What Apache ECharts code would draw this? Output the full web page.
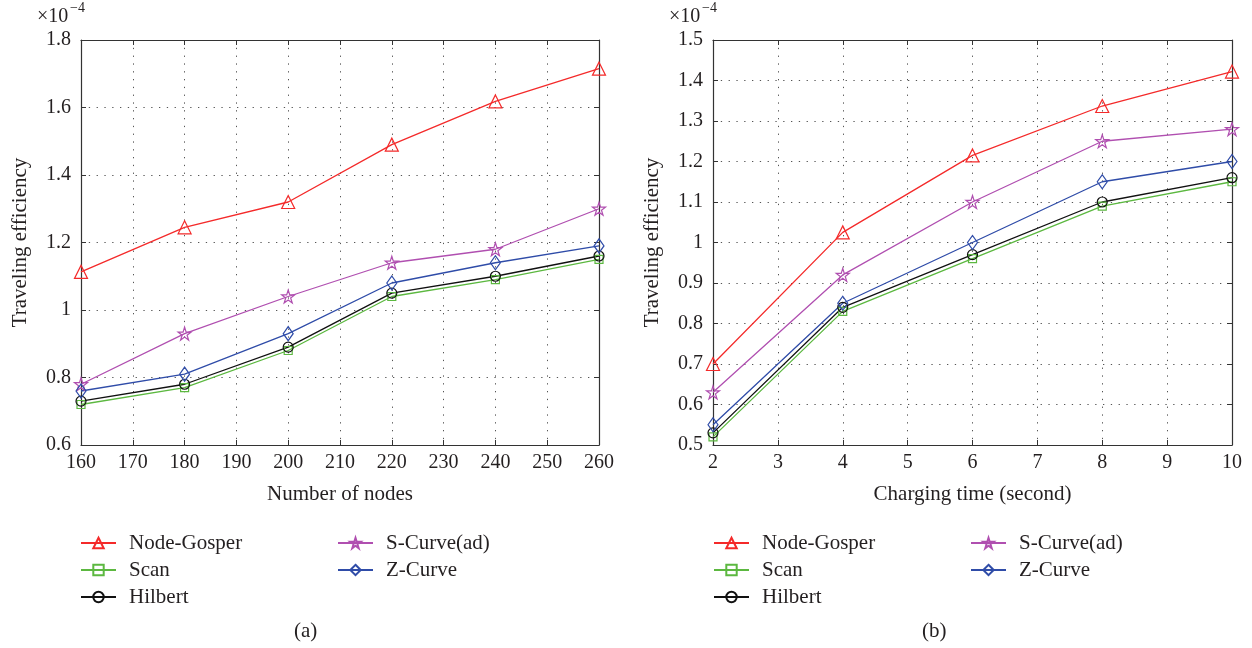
<!DOCTYPE html>
<html>
<head>
<meta charset="utf-8">
<script src="https://cdn.jsdelivr.net/npm/echarts@6/dist/echarts.min.js"></script>
<style>
html,body{margin:0;padding:0;background:#fff;}
#chart{width:1252px;height:648px;}
</style>
</head>
<body>
<div id="chart"></div>
<script>
// ---- data (values in units of 1e-4) ----
const seriesNames = ['Node-Gosper', 'Scan', 'Hilbert', 'S-Curve(ad)', 'Z-Curve'];
const nodesX = [160, 180, 200, 220, 240, 260];
const nodesGosper = [1.113, 1.245, 1.32, 1.49, 1.618, 1.715];
const nodesScan = [0.72, 0.77, 0.88, 1.04, 1.09, 1.15];
const nodesHilbert = [0.73, 0.78, 0.89, 1.05, 1.10, 1.16];
const nodesSCurve = [0.78, 0.93, 1.04, 1.14, 1.18, 1.30];
const nodesZCurve = [0.76, 0.81, 0.93, 1.08, 1.14, 1.19];

const timeX = [2, 4, 6, 8, 10];
const timeGosper = [0.70, 1.025, 1.215, 1.337, 1.422];
const timeScan = [0.52, 0.83, 0.96, 1.09, 1.15];
const timeHilbert = [0.53, 0.84, 0.97, 1.10, 1.16];
const timeSCurve = [0.63, 0.92, 1.10, 1.25, 1.28];
const timeZCurve = [0.55, 0.85, 1.00, 1.15, 1.20];

const xNameA = 'Number of nodes';
const xNameB = 'Charging time (second)';
const yName = 'Traveling efficiency';
const captions = ['(a)', '(b)'];

// ---- styles ----
const FONT = '"Liberation Serif", "DejaVu Serif", serif';
const TXT = '#231f20';
const colors = {
  'Node-Gosper': '#f42a2a',
  'Scan': '#5cb840',
  'Hilbert': '#111111',
  'S-Curve(ad)': '#b04fb0',
  'Z-Curve': '#2f4ca8'
};
const starPath = 'path://M0,-100 L22.45,-30.9 L95.1,-30.9 L36.3,11.8 L58.8,80.9 L0,38.2 L-58.8,80.9 L-36.3,11.8 L-95.1,-30.9 L-22.45,-30.9 Z';
const symbols = {
  'Node-Gosper': ['triangle', 13],
  'Scan': ['rect', 8],
  'Hilbert': ['circle', 10],
  'S-Curve(ad)': [starPath, 13],
  'Z-Curve': ['diamond', [10, 14]]
};

const grids = [
  {left: 81, top: 40, width: 518, height: 405},
  {left: 713, top: 40, width: 519, height: 405}
];

function pairs(xs, ys) { return xs.map((x, i) => [x, ys[i]]); }

function mkSeries(name, xs, ys, gi) {
  const c = colors[name];
  return {
    name: name, type: 'line',
    xAxisIndex: gi * 2, yAxisIndex: gi * 2,
    data: pairs(xs, ys),
    symbol: symbols[name][0], symbolSize: symbols[name][1],
    lineStyle: {color: c, width: 1.3},
    itemStyle: {color: 'rgba(255,255,255,0)', borderColor: c, borderWidth: 1.2},
    emphasis: {disabled: true},
    z: name === 'Node-Gosper' ? 5 : 3
  };
}

const gridLine = {show: true, lineStyle: {color: '#555', type: [1.3, 6.5], width: 1}};
const axisLineStyle = {show: true, lineStyle: {color: '#333', width: 1.2}};
const tickIn = {show: true, inside: true, length: 5, lineStyle: {color: '#333'}};
const labelStyle = {fontFamily: FONT, fontSize: 20, color: TXT};
const fmtY = v => String(Number(v.toFixed(1)));

function xAxes(gi, min, max, interval, name) {
  return [
    {gridIndex: gi, type: 'value', min: min, max: max, interval: interval, position: 'bottom',
     name: name, nameLocation: 'middle', nameGap: 39,
     nameTextStyle: {fontFamily: FONT, fontSize: 21, color: TXT},
     axisLine: axisLineStyle, axisTick: tickIn,
     axisLabel: Object.assign({margin: 8}, labelStyle),
     splitLine: gridLine},
    {gridIndex: gi, type: 'value', min: min, max: max, interval: interval, position: 'top',
     axisLine: axisLineStyle, axisTick: tickIn, axisLabel: {show: false}, splitLine: {show: false}}
  ];
}
function yAxes(gi, min, max, interval) {
  return [
    {gridIndex: gi, type: 'value', min: min, max: max, interval: interval, position: 'left',
     name: yName, nameLocation: 'middle', nameGap: 50,
     nameTextStyle: {fontFamily: FONT, fontSize: 21, color: TXT},
     axisLine: axisLineStyle, axisTick: tickIn,
     axisLabel: Object.assign({margin: 10, formatter: fmtY}, labelStyle),
     splitLine: gridLine},
    {gridIndex: gi, type: 'value', min: min, max: max, interval: interval, position: 'right',
     axisLine: axisLineStyle, axisTick: tickIn, axisLabel: {show: false}, splitLine: {show: false}}
  ];
}

function mkLegend(left, names) {
  return {
    orient: 'vertical', left: left, top: 532, padding: 0,
    data: names, itemWidth: 35, itemHeight: 13, itemGap: 5,
    textStyle: {fontFamily: FONT, fontSize: 21, color: TXT, lineHeight: 22, padding: [0, 0, 0, 8]},
    selectedMode: false
  };
}

const series = [
  mkSeries('Node-Gosper', nodesX, nodesGosper, 0),
  mkSeries('Scan', nodesX, nodesScan, 0),
  mkSeries('Hilbert', nodesX, nodesHilbert, 0),
  mkSeries('S-Curve(ad)', nodesX, nodesSCurve, 0),
  mkSeries('Z-Curve', nodesX, nodesZCurve, 0),
  mkSeries('Node-Gosper', timeX, timeGosper, 1),
  mkSeries('Scan', timeX, timeScan, 1),
  mkSeries('Hilbert', timeX, timeHilbert, 1),
  mkSeries('S-Curve(ad)', timeX, timeSCurve, 1),
  mkSeries('Z-Curve', timeX, timeZCurve, 1)
];

function expText(x) {
  return [
    {type: 'text', left: x, top: 7, style: {text: '×10', font: '20px ' + FONT, fill: TXT}},
    {type: 'text', left: x + 33, top: 1, style: {text: '−4', font: '14px ' + FONT, fill: TXT}}
  ];
}

const option = {
  backgroundColor: '#fff',
  animation: false,
  grid: grids,
  xAxis: xAxes(0, 160, 260, 10, xNameA).concat(xAxes(1, 2, 10, 1, xNameB)),
  yAxis: yAxes(0, 0.6, 1.8, 0.2).concat(yAxes(1, 0.5, 1.5, 0.1)),
  legend: [
    mkLegend(80, seriesNames.slice(0, 3)),
    mkLegend(337, seriesNames.slice(3)),
    mkLegend(713, seriesNames.slice(0, 3)),
    mkLegend(970, seriesNames.slice(3))
  ],
  graphic: expText(37).concat(expText(669)).concat([
    {type: 'text', left: 294, top: 621, style: {text: captions[0], font: '21px ' + FONT, fill: TXT}},
    {type: 'text', left: 922, top: 621, style: {text: captions[1], font: '21px ' + FONT, fill: TXT}}
  ]),
  series: series
};

const chart = echarts.init(document.getElementById('chart'), null, {renderer: 'canvas'});
chart.setOption(option);
</script>
</body>
</html>
